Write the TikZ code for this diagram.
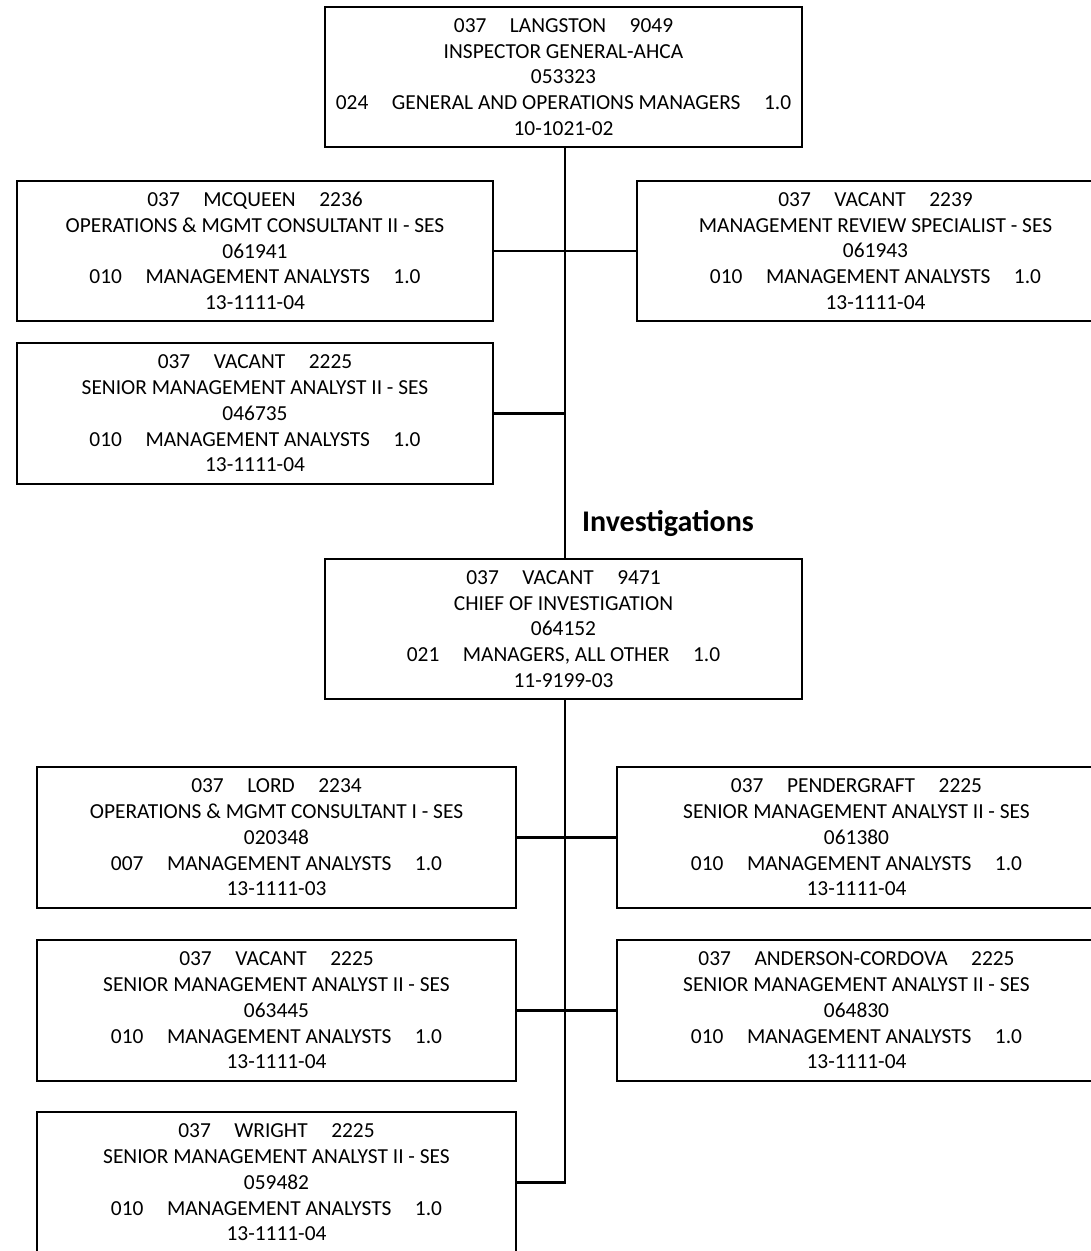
\documentclass[tikz,border=0pt]{standalone}
\usepackage{fontspec}
\setmainfont{Carlito}
\newcommand{\fsep}{\hspace{1.1em}}
\begin{document}
\begin{tikzpicture}[x=1pt,y=-1pt,
  posbox/.style={draw=black, line width=2pt, fill=white, rectangle, inner sep=0pt,
    minimum height=140pt, align=center,
    font=\fontsize{21.4pt}{25.8pt}\selectfont},
  leftbox/.style={posbox, minimum width=476pt},
  wbox/.style={posbox, minimum width=479pt},
  link/.style={draw=black, line width=2.1pt},
  heading/.style={font=\fontsize{30pt}{36pt}\selectfont\bfseries, inner sep=0pt}]
\useasboundingbox (0,0) rectangle (1091,1251);
\clip (0,0) rectangle (1091,1251);
\fill[white] (0,0) rectangle (1091,1251);

% x positions of the vertical reporting trunk
\coordinate (trunktop) at (565,147);
\coordinate (trunkmid) at (565,559);
\coordinate (trunklow) at (565,699);

% Office of the Inspector General
\node[posbox, minimum width=477pt] (ig) at (563.5,77) {037\fsep LANGSTON\fsep 9049\\INSPECTOR GENERAL-AHCA\\053323\\024\fsep GENERAL AND OPERATIONS MANAGERS\fsep 1.0\\10-1021-02};
\node[leftbox] (mcqueen) at (255,251) {037\fsep MCQUEEN\fsep 2236\\OPERATIONS \& MGMT CONSULTANT II - SES\\061941\\010\fsep MANAGEMENT ANALYSTS\fsep 1.0\\13-1111-04};
\node[posbox, minimum width=477pt] (review) at (875.5,251) {037\fsep VACANT\fsep 2239\\MANAGEMENT REVIEW SPECIALIST - SES\\061943\\010\fsep MANAGEMENT ANALYSTS\fsep 1.0\\13-1111-04};
\node[leftbox, minimum height=141pt] (senior) at (255,413.5) {037\fsep VACANT\fsep 2225\\SENIOR MANAGEMENT ANALYST II - SES\\046735\\010\fsep MANAGEMENT ANALYSTS\fsep 1.0\\13-1111-04};

% Investigations section
\node[heading] (invtitle) at (668,523) {Investigations};
\node[posbox, minimum width=477pt] (chief) at (563.5,629) {037\fsep VACANT\fsep 9471\\CHIEF OF INVESTIGATION\\064152\\021\fsep MANAGERS, ALL OTHER\fsep 1.0\\11-9199-03};
\node[wbox, minimum height=141pt] (lord) at (276.5,837.5) {037\fsep LORD\fsep 2234\\OPERATIONS \& MGMT CONSULTANT I - SES\\020348\\007\fsep MANAGEMENT ANALYSTS\fsep 1.0\\13-1111-03};
\node[wbox, minimum height=141pt] (pendergraft) at (856.5,837.5) {037\fsep PENDERGRAFT\fsep 2225\\SENIOR MANAGEMENT ANALYST II - SES\\061380\\010\fsep MANAGEMENT ANALYSTS\fsep 1.0\\13-1111-04};
\node[wbox, minimum height=141pt] (vacinv) at (276.5,1010.5) {037\fsep VACANT\fsep 2225\\SENIOR MANAGEMENT ANALYST II - SES\\063445\\010\fsep MANAGEMENT ANALYSTS\fsep 1.0\\13-1111-04};
\node[wbox, minimum height=141pt] (anderson) at (856.5,1010.5) {037\fsep ANDERSON-CORDOVA\fsep 2225\\SENIOR MANAGEMENT ANALYST II - SES\\064830\\010\fsep MANAGEMENT ANALYSTS\fsep 1.0\\13-1111-04};
\node[wbox, minimum height=141pt] (wright) at (276.5,1182.5) {037\fsep WRIGHT\fsep 2225\\SENIOR MANAGEMENT ANALYST II - SES\\059482\\010\fsep MANAGEMENT ANALYSTS\fsep 1.0\\13-1111-04};

% reporting lines
\draw[link] (ig.south -| trunktop) -- (chief.north -| trunkmid);
\draw[link] (mcqueen.east) -- (review.west);
\draw[link] (senior.east) -- (senior.east -| trunktop);
\draw[link] (chief.south -| trunklow) |- (wright.east);
\draw[link] (lord.east) -- (pendergraft.west);
\draw[link] (vacinv.east) -- (anderson.west);
\end{tikzpicture}
\end{document}
